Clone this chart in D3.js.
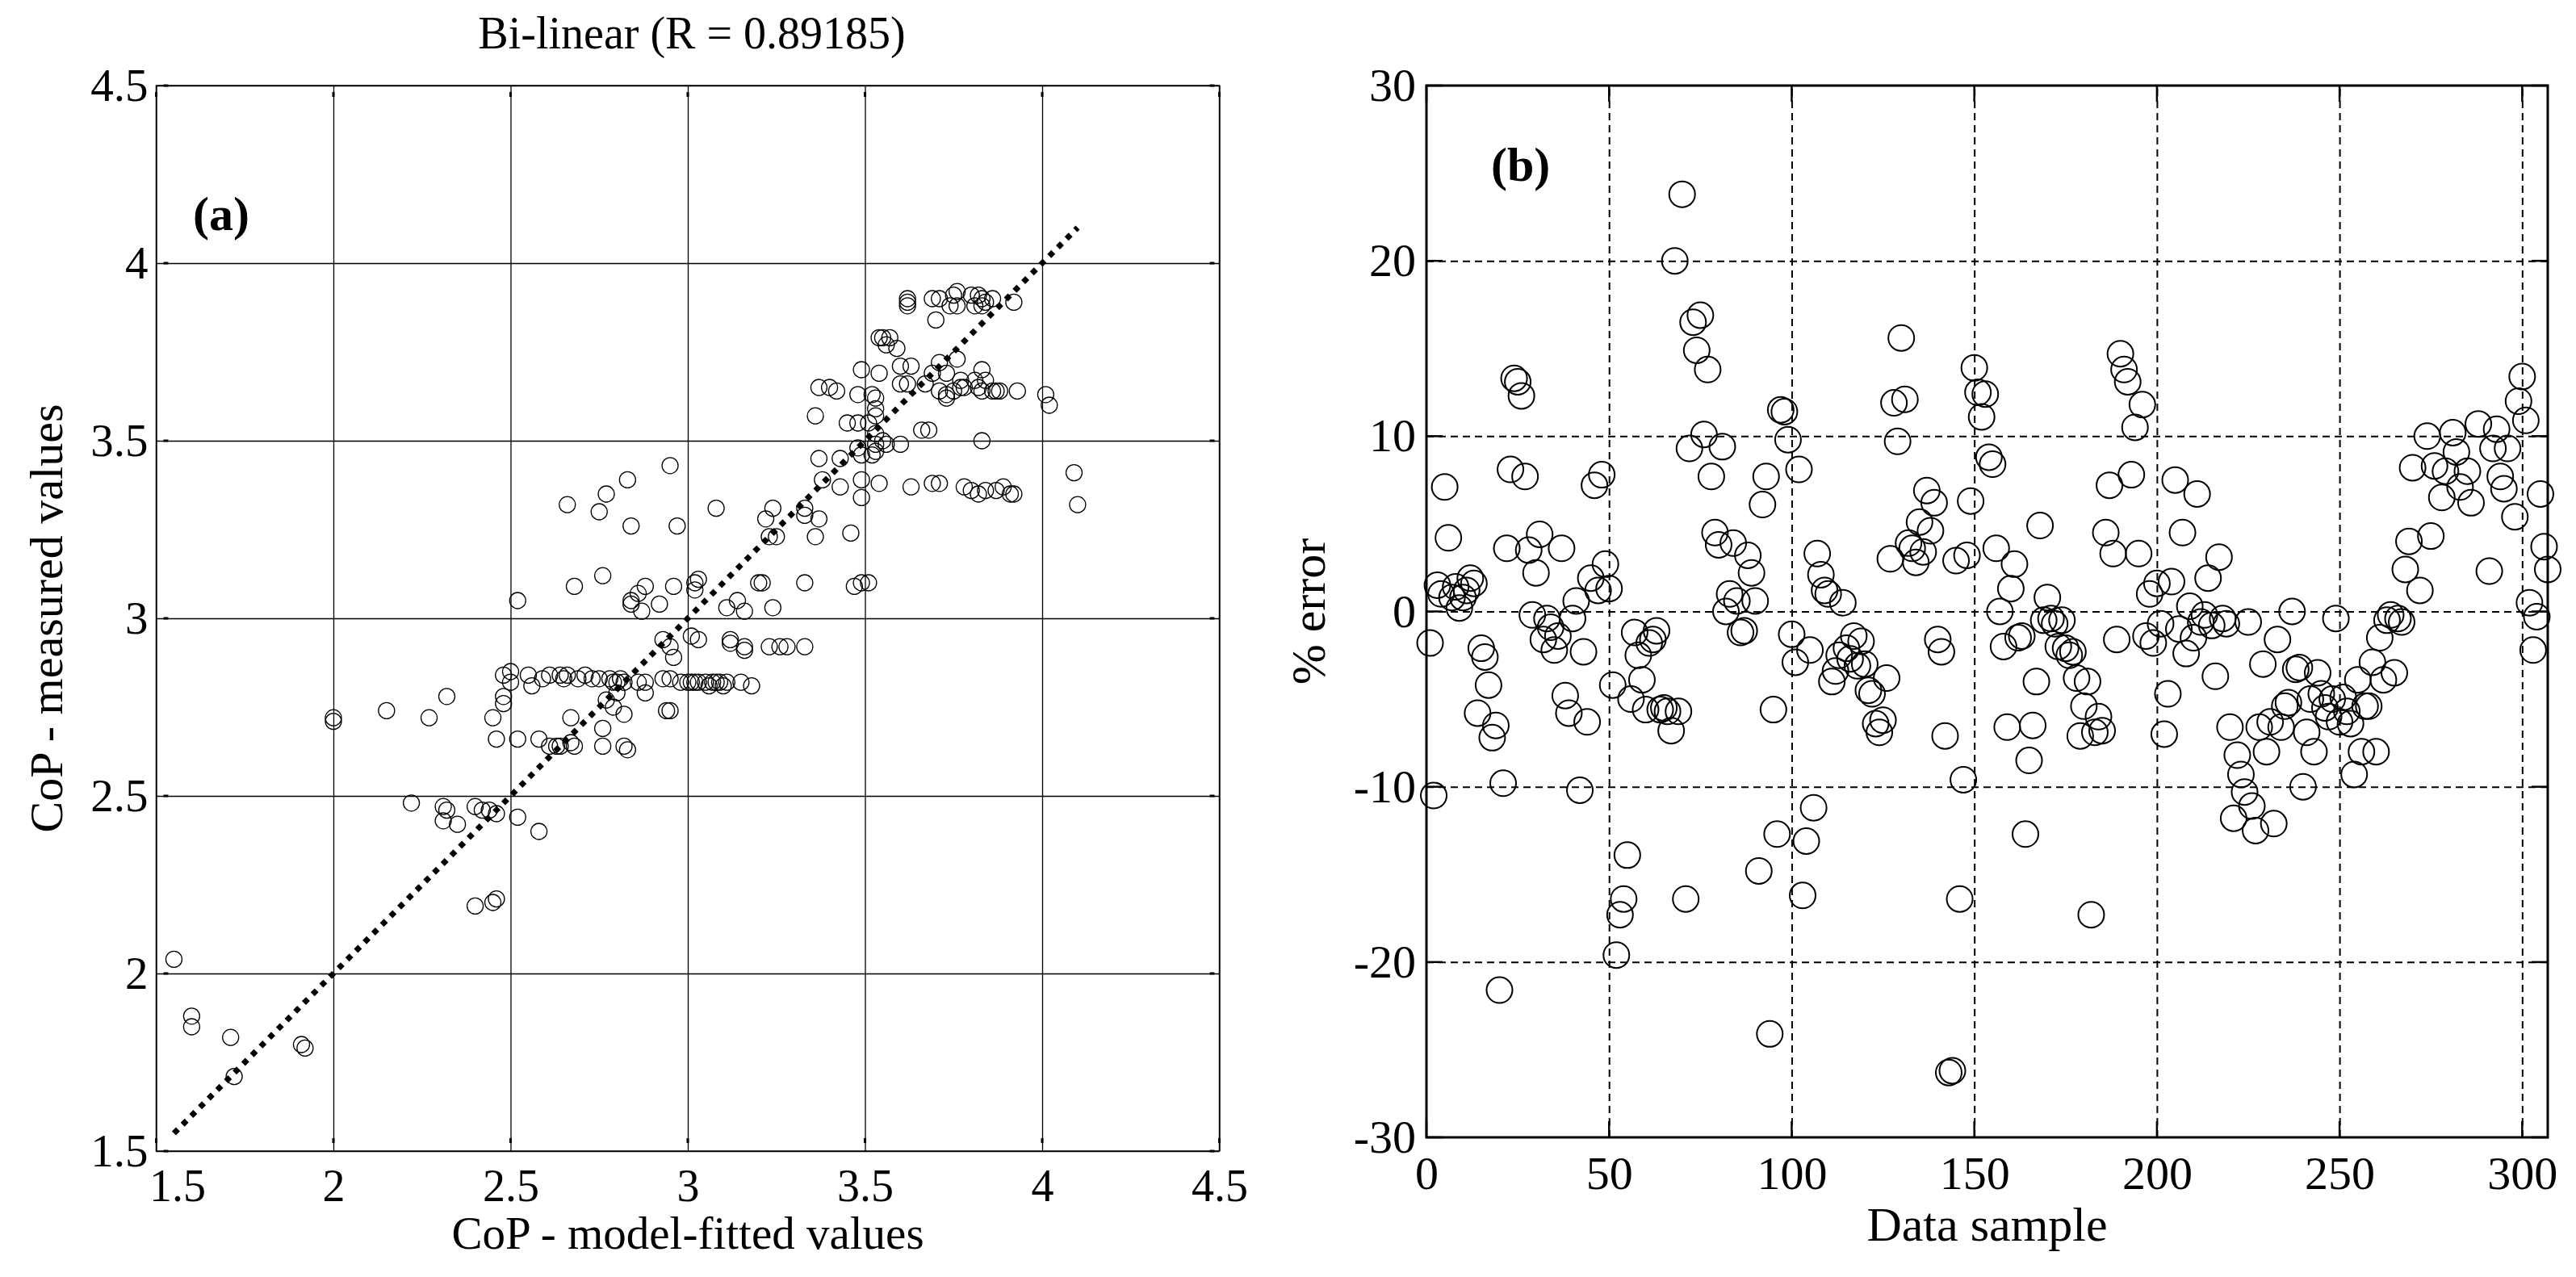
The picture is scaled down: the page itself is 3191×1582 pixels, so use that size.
<!DOCTYPE html>
<html lang="en">
<head>
<meta charset="utf-8">
<title>CoP bi-linear fit and % error</title>
<script src="https://d3js.org/d3.v7.min.js"></script>
<style>
  body { margin: 0; background: #fff; }
  text { font-family: "Liberation Serif", "Times New Roman", serif; fill: #000; }
  .ring { fill: none; stroke: #000; }
</style>
</head>
<body>
<script>

var w = 3191;
var h = 1582;

// tick values / labels
var copTicks = [1.5, 2, 2.5, 3, 3.5, 4, 4.5];
var copTickLabels = ["1.5", "2", "2.5", "3", "3.5", "4", "4.5"];
var sampleTicks = [0, 50, 100, 150, 200, 250, 300];
var errTicks = [-30, -20, -10, 0, 10, 20, 30];
var errTickLabels = ["-30", "-20", "-10", "0", "10", "20", "30"];

// ends of the y = x reference line
var refEnds = [1.55, 4.1];

// (a) model-fitted vs measured CoP
var copPairs = [
  [1.55,2.04],[1.60,1.88],[1.60,1.85],[1.71,1.82],[1.72,1.71],[1.91,1.80],[1.92,1.79],
  [2.00,2.72],[2.00,2.71],[2.15,2.74],[2.27,2.72],[2.32,2.78],
  [2.22,2.48],[2.31,2.47],[2.32,2.46],[2.31,2.43],[2.35,2.42],[2.40,2.47],[2.42,2.46],[2.44,2.46],[2.46,2.45],[2.52,2.44],[2.58,2.40],
  [2.40,2.19],[2.45,2.20],[2.46,2.21],
  [2.45,2.72],[2.46,2.66],[2.48,2.76],[2.48,2.78],[2.52,2.66],
  [2.58,2.66],[2.61,2.64],[2.63,2.64],[2.64,2.64],[2.67,2.65],[2.68,2.64],[2.76,2.64],[2.82,2.64],[2.83,2.63],
  [2.67,2.72],[2.76,2.69],[2.77,2.77],[2.79,2.75],[2.82,2.73],[2.80,2.79],[2.88,2.79],[2.94,2.74],[2.95,2.74],
  [2.48,2.84],[2.50,2.85],[2.50,2.82],[2.55,2.84],[2.56,2.81],[2.59,2.83],[2.61,2.84],[2.64,2.84],[2.65,2.83],[2.66,2.84],
  [2.69,2.83],[2.71,2.84],[2.73,2.83],[2.75,2.83],[2.78,2.83],[2.79,2.82],[2.80,2.82],[2.81,2.83],[2.82,2.82],[2.86,2.82],
  [2.88,2.82],[2.93,2.83],[2.95,2.83],[2.98,2.82],[3.00,2.82],[3.01,2.82],[3.02,2.82],[3.03,2.82],[3.05,2.82],[3.06,2.81],
  [3.07,2.82],[3.08,2.82],[3.09,2.82],[3.10,2.81],[3.11,2.82],[3.15,2.82],[3.18,2.81],
  [2.93,2.94],[2.95,2.92],[2.96,2.89],[3.01,2.95],[3.03,2.94],[3.12,2.94],[3.12,2.93],[3.16,2.91],[3.16,2.92],[3.23,2.92],
  [3.26,2.92],[3.28,2.92],[3.33,2.92],
  [2.52,3.05],[2.68,3.09],[2.76,3.12],[2.84,3.05],[2.84,3.04],[2.87,3.02],[2.86,3.07],[2.88,3.09],[2.92,3.04],[2.96,3.09],
  [3.03,3.11],[3.02,3.08],[3.02,3.10],[3.11,3.03],[3.14,3.05],[3.16,3.02],[3.20,3.10],[3.21,3.10],[3.24,3.03],[3.33,3.10],
  [3.47,3.09],[3.49,3.10],[3.51,3.10],
  [2.66,3.32],[2.75,3.30],[2.77,3.35],[2.83,3.39],[2.84,3.26],[2.95,3.43],[2.97,3.26],[3.08,3.31],
  [3.22,3.28],[3.24,3.31],[3.23,3.23],[3.25,3.23],[3.33,3.31],[3.33,3.29],[3.37,3.28],[3.36,3.23],[3.46,3.24],
  [3.37,3.45],[3.43,3.45],[3.49,3.46],[3.52,3.46],[3.38,3.39],[3.43,3.37],[3.49,3.34],[3.49,3.39],[3.54,3.38],[3.63,3.37],
  [3.69,3.38],[3.71,3.38],[3.78,3.37],[3.80,3.36],[3.82,3.35],[3.84,3.36],[3.87,3.36],[3.89,3.37],[3.91,3.35],[3.92,3.35],
  [4.09,3.41],[4.10,3.32],
  [3.48,3.48],[3.45,3.55],[3.48,3.55],[3.51,3.55],[3.53,3.52],[3.53,3.49],[3.53,3.47],[3.55,3.50],[3.60,3.49],[3.56,3.49],
  [3.66,3.53],[3.68,3.53],[3.83,3.50],[3.36,3.57],
  [3.37,3.65],[3.40,3.65],[3.42,3.64],[3.48,3.63],[3.52,3.63],[3.49,3.70],[3.54,3.69],[3.60,3.66],[3.53,3.62],[3.53,3.59],
  [3.53,3.57],[3.63,3.71],[3.67,3.66],[3.71,3.72],[3.73,3.69],[3.69,3.69],[3.73,3.62],[3.78,3.65],[3.84,3.67],[3.83,3.70],
  [3.87,3.64],[3.62,3.66],[3.60,3.71],[4.01,3.63],[4.02,3.60],
  [3.71,3.64],[3.73,3.63],[3.75,3.64],[3.77,3.67],[3.77,3.65],[3.81,3.67],[3.82,3.65],[3.83,3.64],[3.86,3.64],[3.88,3.64],[3.93,3.64],
  [3.54,3.79],[3.55,3.79],[3.57,3.79],[3.56,3.77],[3.59,3.76],[3.76,3.73],[3.70,3.84],
  [3.62,3.90],[3.62,3.89],[3.62,3.88],[3.69,3.90],[3.71,3.90],[3.75,3.91],[3.76,3.92],[3.74,3.88],[3.76,3.88],[3.80,3.91],
  [3.82,3.91],[3.83,3.90],[3.83,3.88],[3.84,3.89],[3.86,3.90],[3.81,3.88],[3.92,3.89]
];

// (b) % error for each data sample
var errorPairs = [
  [1,-1.8],[2,-10.5],[3,1.5],[4,1.0],[5,7.1],[6,4.2],[7,0.8],[8,1.4],[9,0.2],[10,0.8],
  [11,1.2],[12,1.9],[13,1.6],[14,-5.8],[15,-2.1],[16,-2.6],[17,-4.2],[18,-7.2],[19,-6.5],[20,-21.6],
  [21,-9.8],[22,3.6],[23,8.1],[24,13.3],[25,13.1],[26,12.3],[27,7.7],[28,3.5],[29,-0.2],[30,2.2],
  [31,4.4],[32,-1.6],[33,-0.4],[34,-0.9],[35,-2.2],[36,-1.4],[37,3.6],[38,-4.8],[39,-5.8],[40,-0.4],
  [41,0.6],[42,-10.2],[43,-2.3],[44,-6.3],[45,1.9],[46,7.2],[47,1.2],[48,7.8],[49,2.7],[50,1.3],
  [51,-4.2],[52,-19.6],[53,-17.3],[54,-16.4],[55,-13.9],[56,-5.0],[57,-1.2],[58,-2.5],[59,-3.9],[60,-5.6],
  [61,-1.8],[62,-1.6],[63,-1.1],[64,-5.6],[65,-5.5],[66,-5.7],[67,-6.8],[68,20.0],[69,-5.7],[70,23.8],
  [71,-16.4],[72,9.3],[73,16.5],[74,14.9],[75,16.9],[76,10.1],[77,13.8],[78,7.7],[79,4.5],[80,3.8],
  [81,9.4],[82,0.0],[83,1.0],[84,3.9],[85,0.6],[86,-1.2],[87,-1.1],[88,3.2],[89,2.2],[90,0.6],
  [91,-14.8],[92,6.1],[93,7.7],[94,-24.1],[95,-5.6],[96,-12.7],[97,11.5],[98,11.4],[99,9.8],[100,-1.3],
  [101,-2.9],[102,8.1],[103,-16.2],[104,-13.1],[105,-2.2],[106,-11.2],[107,3.3],[108,2.1],[109,1.2],[110,1.0],
  [111,-4.0],[112,-3.4],[113,-2.5],[114,0.5],[115,-2.1],[116,-2.7],[117,-1.4],[118,-3.1],[119,-1.7],[120,-3.0],
  [121,-4.5],[122,-4.7],[123,-6.4],[124,-6.9],[125,-6.2],[126,-3.8],[127,3.0],[128,11.9],[129,9.7],[130,15.6],
  [131,12.1],[132,3.9],[133,3.6],[134,2.8],[135,5.1],[136,3.4],[137,6.9],[138,4.6],[139,6.2],[140,-1.6],
  [141,-2.3],[142,-7.1],[143,-26.3],[144,-26.2],[145,2.9],[146,-16.4],[147,-9.6],[148,3.2],[149,6.3],[150,13.9],
  [151,12.5],[152,11.1],[153,12.4],[154,8.8],[155,8.4],[156,3.6],[157,0.0],[158,-2.0],[159,-6.6],[160,1.3],
  [161,2.7],[162,-1.5],[163,-1.4],[164,-12.7],[165,-8.5],[166,-6.5],[167,-4.0],[168,4.9],[169,-0.5],[170,0.8],
  [171,-0.4],[172,-0.7],[173,-2.0],[174,-0.5],[175,-2.1],[176,-2.5],[177,-2.3],[178,-3.8],[179,-7.1],[180,-5.4],
  [181,-4.0],[182,-17.3],[183,-6.9],[184,-6.0],[185,-6.8],[186,4.5],[187,7.2],[188,3.3],[189,-1.6],[190,14.7],
  [191,13.8],[192,13.1],[193,7.8],[194,10.5],[195,3.3],[196,11.8],[197,-1.4],[198,1.0],[199,-1.8],[200,1.6],
  [201,-0.7],[202,-7.0],[203,-4.7],[204,1.7],[205,7.5],[206,-1.0],[207,4.5],[208,-2.4],[209,0.3],[210,-1.5],
  [211,6.7],[212,-0.6],[213,-0.2],[214,1.9],[215,-0.8],[216,-3.7],[217,3.1],[218,-0.4],[219,-0.7],[220,-6.6],
  [221,-11.8],[222,-8.2],[223,-9.3],[224,-10.3],[225,-0.6],[226,-11.1],[227,-12.5],[228,-6.6],[229,-3.0],[230,-8.0],
  [231,-6.3],[232,-12.1],[233,-1.6],[234,-6.6],[235,-5.4],[236,-5.2],[237,0.0],[238,-3.3],[239,-3.2],[240,-10.0],
  [241,-6.9],[242,-5.0],[243,-8.0],[244,-3.5],[245,-4.7],[246,-5.5],[247,-6.0],[248,-5.0],[249,-0.4],[250,-6.3],
  [251,-4.9],[252,-5.7],[253,-6.4],[254,-9.3],[255,-3.9],[256,-8.0],[257,-5.4],[258,-5.4],[259,-2.9],[260,-8.0],
  [261,-1.5],[262,-3.9],[263,-0.5],[264,-0.2],[265,-3.5],[266,-0.4],[267,-0.6],[268,2.4],[269,4.0],[270,8.2],
  [272,1.2],[274,10.0],[275,4.3],[276,8.3],[278,6.5],[279,8.0],[281,10.2],[282,9.1],[283,7.1],[285,8.0],
  [286,6.2],[288,10.7],[291,2.3],[292,9.3],[293,10.4],[294,7.7],[295,7.0],[296,9.3],[298,5.4],[299,12.0],
  [300,13.4],[301,10.9],[302,0.5],[303,-2.2],[304,-0.3],[305,6.7],[306,3.7],[307,2.4]
];

var svg = d3.select("body")
            .append("svg")
            .attr("width", w)
            .attr("height", h);

// ---------- panel (a) ----------
var xA = d3.scaleLinear().domain([1.5, 4.5]).range([193.5, 1510.5]);
var yA = d3.scaleLinear().domain([1.5, 4.5]).range([1426, 106]);
var aW = xA(4.5) - xA(1.5);
var aH = yA(1.5) - yA(4.5);

var gA = svg.append("g");

// solid grid
gA.append("g")
  .attr("transform", `translate(0, ${yA(1.5)})`)
  .call(d3.axisBottom(xA).tickValues(copTicks).tickSize(-aH).tickFormat(""))
  .call(g => g.select(".domain").remove())
  .selectAll("line").attr("stroke", "#000").attr("stroke-width", 1.3);

gA.append("g")
  .attr("transform", `translate(${xA(1.5)}, 0)`)
  .call(d3.axisLeft(yA).tickValues(copTicks).tickSize(-aW).tickFormat(""))
  .call(g => g.select(".domain").remove())
  .selectAll("line").attr("stroke", "#000").attr("stroke-width", 1.3);

gA.append("rect")
  .attr("x", xA(1.5)).attr("y", yA(4.5))
  .attr("width", aW).attr("height", aH)
  .attr("fill", "none").attr("stroke", "#000").attr("stroke-width", 1.5);

// the little inner tick marks
var tickMarks = gA.append("g").attr("stroke", "#000").attr("stroke-width", 3);
copTicks.forEach(function(t) {
  tickMarks.append("line").attr("x1", xA(1.5) + 9).attr("x2", xA(1.5) + 15).attr("y1", yA(t)).attr("y2", yA(t));
  tickMarks.append("line").attr("x1", xA(4.5) - 12).attr("x2", xA(4.5) - 6).attr("y1", yA(t)).attr("y2", yA(t));
  tickMarks.append("line").attr("x1", xA(t)).attr("x2", xA(t)).attr("y1", yA(1.5) - 16).attr("y2", yA(1.5) - 10);
  tickMarks.append("line").attr("x1", xA(t)).attr("x2", xA(t)).attr("y1", yA(4.5) + 8).attr("y2", yA(4.5) + 14);
});

// tick labels
gA.append("g")
  .attr("transform", `translate(0, ${yA(1.5)})`)
  .call(d3.axisBottom(xA).tickValues(copTicks).tickSize(0).tickPadding(22)
          .tickFormat((d, i) => copTickLabels[i]))
  .attr("font-size", 56)
  .call(g => g.select(".domain").remove())
  // first label sits a bit to the right, clear of the y-axis "1.5"
  .selectAll(".tick text").filter(d => d === 1.5).attr("dx", 26);

gA.append("g")
  .attr("transform", `translate(${xA(1.5)}, 0)`)
  .call(d3.axisLeft(yA).tickValues(copTicks).tickSize(0).tickPadding(10)
          .tickFormat((d, i) => copTickLabels[i]))
  .attr("font-size", 57)
  .call(g => g.select(".domain").remove());

// points
gA.append("g")
  .selectAll("circle")
  .data(copPairs)
  .join("circle")
  .attr("class", "ring")
  .attr("cx", d => xA(d[0]))
  .attr("cy", d => yA(d[1]))
  .attr("r", 10)
  .attr("stroke-width", 1.3);

// y = x dotted line
var refLine = d3.line().x(d => xA(d)).y(d => yA(d));
gA.append("path")
  .datum(refEnds)
  .attr("d", refLine)
  .attr("fill", "none")
  .attr("stroke", "#000")
  .attr("stroke-width", 7)
  .attr("stroke-dasharray", "7 8.2");

gA.append("text").attr("x", 857).attr("y", 60)
  .attr("text-anchor", "middle").attr("font-size", 56)
  .text("Bi-linear (R = 0.89185)");

gA.append("text").attr("x", 239).attr("y", 285)
  .attr("font-size", 60).attr("font-weight", "bold")
  .text("(a)");

gA.append("text").attr("x", (xA(1.5) + xA(4.5)) / 2).attr("y", 1547)
  .attr("text-anchor", "middle").attr("font-size", 57)
  .text("CoP - model-fitted values");

gA.append("text")
  .attr("transform", `translate(77, ${(yA(1.5) + yA(4.5)) / 2}) rotate(-90)`)
  .attr("text-anchor", "middle").attr("font-size", 58)
  .text("CoP - measured values");

// ---------- panel (b) ----------
var xB = d3.scaleLinear().domain([0, 307]).range([1767, 3156]);
var yB = d3.scaleLinear().domain([-30, 30]).range([1409, 106]);
var bW = xB(307) - xB(0);
var bH = yB(-30) - yB(30);

var gB = svg.append("g");

// dashed grid
gB.append("g")
  .attr("transform", `translate(0, ${yB(-30)})`)
  .call(d3.axisBottom(xB).tickValues(sampleTicks.slice(1)).tickSize(-bH).tickFormat(""))
  .call(g => g.select(".domain").remove())
  .selectAll("line").attr("stroke", "#000").attr("stroke-width", 2).attr("stroke-dasharray", "9 6");

gB.append("g")
  .attr("transform", `translate(${xB(0)}, 0)`)
  .call(d3.axisLeft(yB).tickValues(errTicks.slice(1, -1)).tickSize(-bW).tickFormat(""))
  .call(g => g.select(".domain").remove())
  .selectAll("line").attr("stroke", "#000").attr("stroke-width", 2).attr("stroke-dasharray", "9 6");

// inward ticks on all four sides
var tickB = gB.append("g").attr("stroke", "#000").attr("stroke-width", 2.5);
sampleTicks.forEach(function(t) {
  tickB.append("line").attr("x1", xB(t)).attr("x2", xB(t)).attr("y1", yB(-30)).attr("y2", yB(-30) - 20);
  tickB.append("line").attr("x1", xB(t)).attr("x2", xB(t)).attr("y1", yB(30)).attr("y2", yB(30) + 20);
});
errTicks.forEach(function(t) {
  tickB.append("line").attr("x1", xB(0)).attr("x2", xB(0) + 20).attr("y1", yB(t)).attr("y2", yB(t));
  tickB.append("line").attr("x1", xB(307)).attr("x2", xB(307) - 20).attr("y1", yB(t)).attr("y2", yB(t));
});

gB.append("rect")
  .attr("x", xB(0)).attr("y", yB(30))
  .attr("width", bW).attr("height", bH)
  .attr("fill", "none").attr("stroke", "#000").attr("stroke-width", 3);

gB.append("g")
  .attr("transform", `translate(0, ${yB(-30)})`)
  .call(d3.axisBottom(xB).tickValues(sampleTicks).tickSize(0).tickPadding(23)
          .tickFormat(d => String(d)))
  .attr("font-size", 58)
  .call(g => g.select(".domain").remove());

gB.append("g")
  .attr("transform", `translate(${xB(0)}, 0)`)
  .call(d3.axisLeft(yB).tickValues(errTicks).tickSize(0).tickPadding(13)
          .tickFormat((d, i) => errTickLabels[i]))
  .attr("font-size", 58)
  .call(g => g.select(".domain").remove());

gB.append("g")
  .selectAll("circle")
  .data(errorPairs)
  .join("circle")
  .attr("class", "ring")
  .attr("cx", d => xB(d[0]))
  .attr("cy", d => yB(d[1]))
  .attr("r", 16)
  .attr("stroke-width", 2);

gB.append("text").attr("x", 1847).attr("y", 224)
  .attr("font-size", 60).attr("font-weight", "bold")
  .text("(b)");

gB.append("text").attr("x", (xB(0) + xB(307)) / 2).attr("y", 1537)
  .attr("text-anchor", "middle").attr("font-size", 60)
  .text("Data sample");

gB.append("text")
  .attr("transform", `translate(1641, ${(yB(-30) + yB(30)) / 2}) rotate(-90)`)
  .attr("text-anchor", "middle").attr("font-size", 60)
  .text("% error");

</script>
</body>
</html>
